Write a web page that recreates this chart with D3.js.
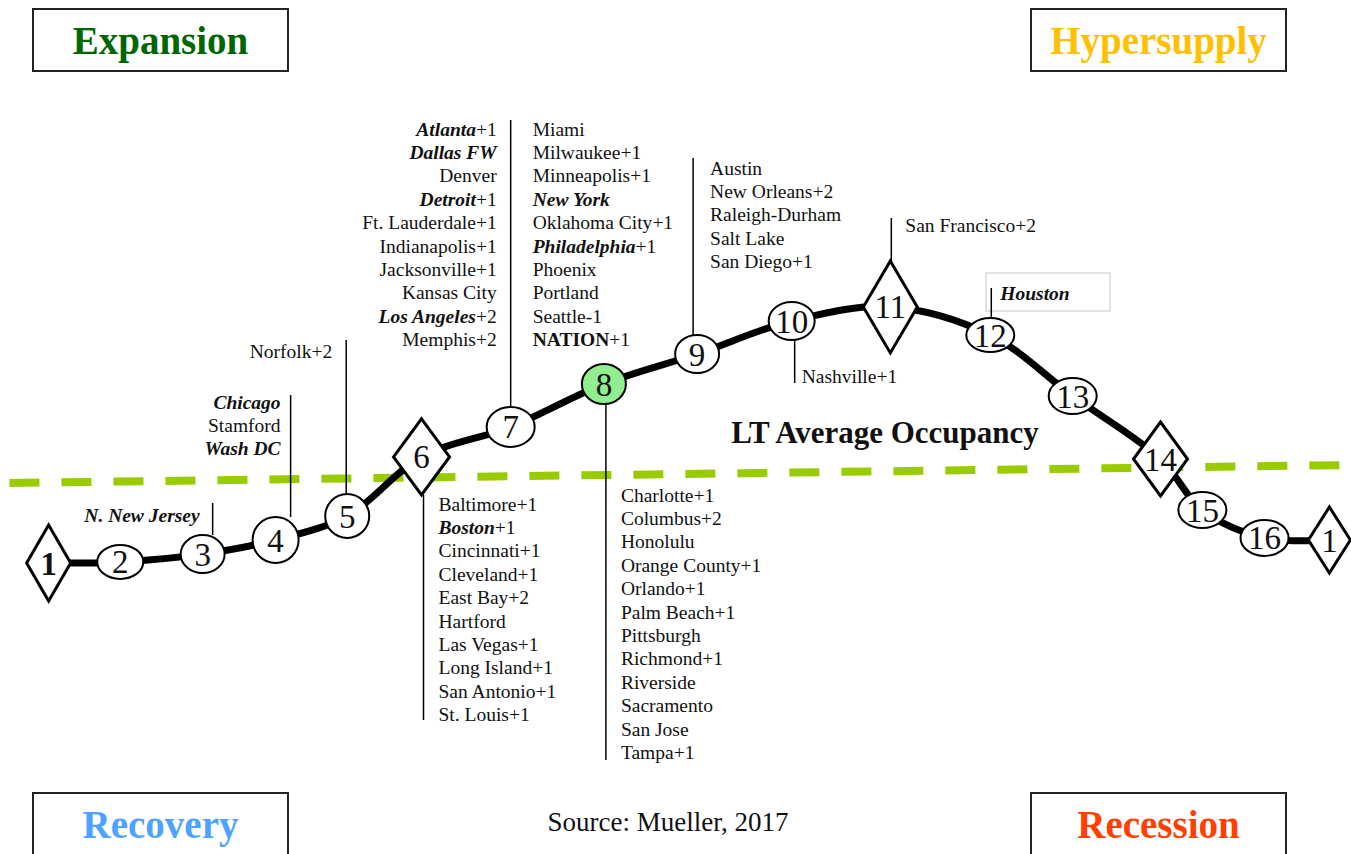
<!DOCTYPE html>
<html><head><meta charset="utf-8">
<script src="https://cdn.jsdelivr.net/npm/d3@7"></script>
<style>html,body{margin:0;padding:0;background:#fff;}svg{display:block;font-family:"Liberation Serif","Times New Roman",serif;}</style>
</head><body>
<svg id="chart" width="1351" height="854"></svg>
<script>
// ---- DATA ----
const phases = [1,2,3,4,5,6,7,8,9,10,11,12,13,14,15,16,1];
const cyclePos = [3.6, 8.9, 15.0, 20.4, 25.7, 31.2, 37.8, 44.7, 51.6, 58.6, 65.9, 73.3, 79.4, 85.9, 89.0, 93.6, 98.4];
const occupancy = [1.23, 1.27, 1.53, 2.0, 2.8, 4.77, 5.77, 7.2, 8.2, 9.3, 9.77, 8.83, 6.8, 4.7, 3.0, 2.07, 2.0];
const diamondPhases = [1, 6, 11, 14];
const ltAvgPos = [0.7, 100];
const ltAvgOcc = [3.9, 4.5];
const quadrants = ["Expansion", "Hypersupply", "Recovery", "Recession"];
const ltLabel = "LT Average Occupancy";
const source = "Source: Mueller, 2017";
// market lists: [name, suffix, style]  style: "" normal, "bi" bold-italic, "b" bold
const marketsP3 = [["N. New Jersey","","bi"]];
const marketsP4 = [["Chicago","","bi"],["Stamford","",""],["Wash DC","","bi"]];
const marketsP5 = [["Norfolk","+2",""]];
const marketsP6 = [["Baltimore","+1",""],["Boston","+1","bi"],["Cincinnati","+1",""],["Cleveland","+1",""],["East Bay","+2",""],["Hartford","",""],["Las Vegas","+1",""],["Long Island","+1",""],["San Antonio","+1",""],["St. Louis","+1",""]];
const marketsP7 = [["Atlanta","+1","bi"],["Dallas FW","","bi"],["Denver","",""],["Detroit","+1","bi"],["Ft. Lauderdale","+1",""],["Indianapolis","+1",""],["Jacksonville","+1",""],["Kansas City","",""],["Los Angeles","+2","bi"],["Memphis","+2",""]];
const marketsP7b = [["Miami","",""],["Milwaukee","+1",""],["Minneapolis","+1",""],["New York","","bi"],["Oklahoma City","+1",""],["Philadelphia","+1","bi"],["Phoenix","",""],["Portland","",""],["Seattle","-1",""],["NATION","+1","b"]];
const marketsP8 = [["Charlotte","+1",""],["Columbus","+2",""],["Honolulu","",""],["Orange County","+1",""],["Orlando","+1",""],["Palm Beach","+1",""],["Pittsburgh","",""],["Richmond","+1",""],["Riverside","",""],["Sacramento","",""],["San Jose","",""],["Tampa","+1",""]];
const marketsP9 = [["Austin","",""],["New Orleans","+2",""],["Raleigh-Durham","",""],["Salt Lake","",""],["San Diego","+1",""]];
const marketsP10 = [["Nashville","+1",""]];
const marketsP11 = [["San Francisco","+2",""]];
const marketsP12 = [["Houston","","bi"]];

// ---- SETUP ----
const W = 1351, H = 854;
const svg = d3.select("#chart");
const x = d3.scaleLinear().domain([0,100]).range([0,W]);
const y = d3.scaleLinear().domain([0,10]).range([600,300]);
const nodes = phases.map((p,i)=>({phase:p, i, cx:x(cyclePos[i]), cy:y(occupancy[i]), diamond:diamondPhases.includes(p)}));

svg.append("rect").attr("width",W).attr("height",H).attr("fill","#fff");

// quadrant boxes
const qColors = ["#006600","#ffc000","#4da3ff","#ff4000"];
const qBoxes = [[33,9],[1031,9],[33,793],[1031,793]];
quadrants.forEach((q,i)=>{
  const [bx,by] = qBoxes[i];
  svg.append("rect").attr("x",bx).attr("y",by).attr("width",255).attr("height",i<2?62:70)
    .attr("fill","#fff").attr("stroke","#222").attr("stroke-width",2);
  svg.append("text").attr("x",bx+127.5).attr("y",by+45).attr("text-anchor","middle")
    .attr("font-size",39).attr("font-weight","bold").attr("fill",qColors[i]).text(q);
});

// LT average dashed line
svg.append("line")
  .attr("x1",x(ltAvgPos[0])).attr("y1",y(ltAvgOcc[0]))
  .attr("x2",x(ltAvgPos[1])).attr("y2",y(ltAvgOcc[1]))
  .attr("stroke","#99cc00").attr("stroke-width",8).attr("stroke-dasharray","30 22");

svg.append("text").attr("x",885).attr("y",443).attr("text-anchor","middle")
  .attr("font-size",31).attr("font-weight","bold").attr("fill","#111").text(ltLabel);

// source
svg.append("text").attr("x",668).attr("y",831).attr("text-anchor","middle")
  .attr("font-size",27).attr("fill","#111").text(source);

// cycle curve
const lineGen = d3.line().x(d=>d.cx).y(d=>d.cy).curve(d3.curveCatmullRom.alpha(0.5));
svg.append("path").datum(nodes).attr("d",lineGen).attr("fill","none")
  .attr("stroke","#000").attr("stroke-width",7).attr("stroke-linecap","round");

// node geometry (style)
const nodeSize = {0:[22,38],5:[28,38],10:[27,46],13:[27,37],16:[21,33],
  1:[23,17],2:[22,19],3:[23,23],4:[22,22],6:[24,20],7:[22,20],8:[22,19],9:[23,19],11:[24,17],12:[24,18],14:[24,18],15:[24,18]};

// leaders and labels
const lineH = 23.4;
function drawList(nodeIdx, items, opt){
  const n = nodes[nodeIdx];
  const [hw,hh] = nodeSize[nodeIdx];
  const lx = n.cx + (opt.lineDx||0);
  const edge = opt.dir==="up" ? n.cy - hh : n.cy + hh;
  if(opt.drawLine!==false){
    svg.append("line").attr("x1",lx).attr("x2",lx).attr("y1",edge).attr("y2",opt.end)
      .attr("stroke","#000").attr("stroke-width",1.5);
  }
  items.forEach((it,k)=>{
    const t = svg.append("text").attr("x",lx+opt.tdx).attr("y",opt.start + k*lineH + 6.5)
      .attr("text-anchor",opt.anchor).attr("font-size",19.5).attr("fill","#111");
    const s1 = t.append("tspan").text(it[0]);
    if(it[2]==="bi"){ s1.attr("font-weight","bold").attr("font-style","italic"); }
    if(it[2]==="b"){ s1.attr("font-weight","bold"); }
    if(it[1]) t.append("tspan").text(it[1]);
  });
}
// Houston box
svg.append("rect").attr("x",986).attr("y",273).attr("width",124).attr("height",38)
  .attr("fill","none").attr("stroke","#c8c8c8").attr("stroke-width",1);

drawList(2, marketsP3, {dir:"up", end:503, start:515, tdx:-13, anchor:"end", lineDx:10});
drawList(3, marketsP4, {dir:"up", end:395, start:402, tdx:-10, anchor:"end", lineDx:15});
drawList(4, marketsP5, {dir:"up", end:340, start:351, tdx:-14, anchor:"end", lineDx:-1});
drawList(5, marketsP6, {dir:"down", end:720, start:504, tdx:15, anchor:"start", lineDx:2});
drawList(6, marketsP7, {dir:"up", end:120, start:129, tdx:-14, anchor:"end"});
drawList(6, marketsP7b, {dir:"up", end:120, start:129, tdx:22, anchor:"start", drawLine:false});
drawList(7, marketsP8, {dir:"down", end:760, start:495, tdx:15, anchor:"start", lineDx:2});
drawList(8, marketsP9, {dir:"up", end:158, start:168, tdx:17, anchor:"start", lineDx:-4});
drawList(9, marketsP10, {dir:"down", end:383, start:376, tdx:7, anchor:"start", lineDx:3});
drawList(10, marketsP11, {dir:"up", end:218, start:225, tdx:14, anchor:"start", lineDx:1});
drawList(11, marketsP12, {dir:"up", end:288, start:293, tdx:9, anchor:"start", lineDx:1});

// nodes
const g = svg.append("g");
nodes.forEach((n,i)=>{
  const [hw,hh] = nodeSize[i];
  if(n.diamond){
    g.append("path").attr("d",`M${n.cx},${n.cy-hh}L${n.cx+hw},${n.cy}L${n.cx},${n.cy+hh}L${n.cx-hw},${n.cy}Z`)
      .attr("fill","#fff").attr("stroke","#000").attr("stroke-width",3).attr("stroke-linejoin","miter");
  } else {
    g.append("ellipse").attr("cx",n.cx).attr("cy",n.cy).attr("rx",hw).attr("ry",hh)
      .attr("fill", n.phase===8 ? "#90ee90" : "#fff").attr("stroke","#000").attr("stroke-width",2);
  }
  g.append("text").attr("x",n.cx).attr("y",n.cy+11.5).attr("text-anchor","middle")
    .attr("font-size",33).attr("font-weight", i===0 ? "bold" : "normal").attr("fill","#111")
    .text(n.phase);
});
</script>
</body></html>
